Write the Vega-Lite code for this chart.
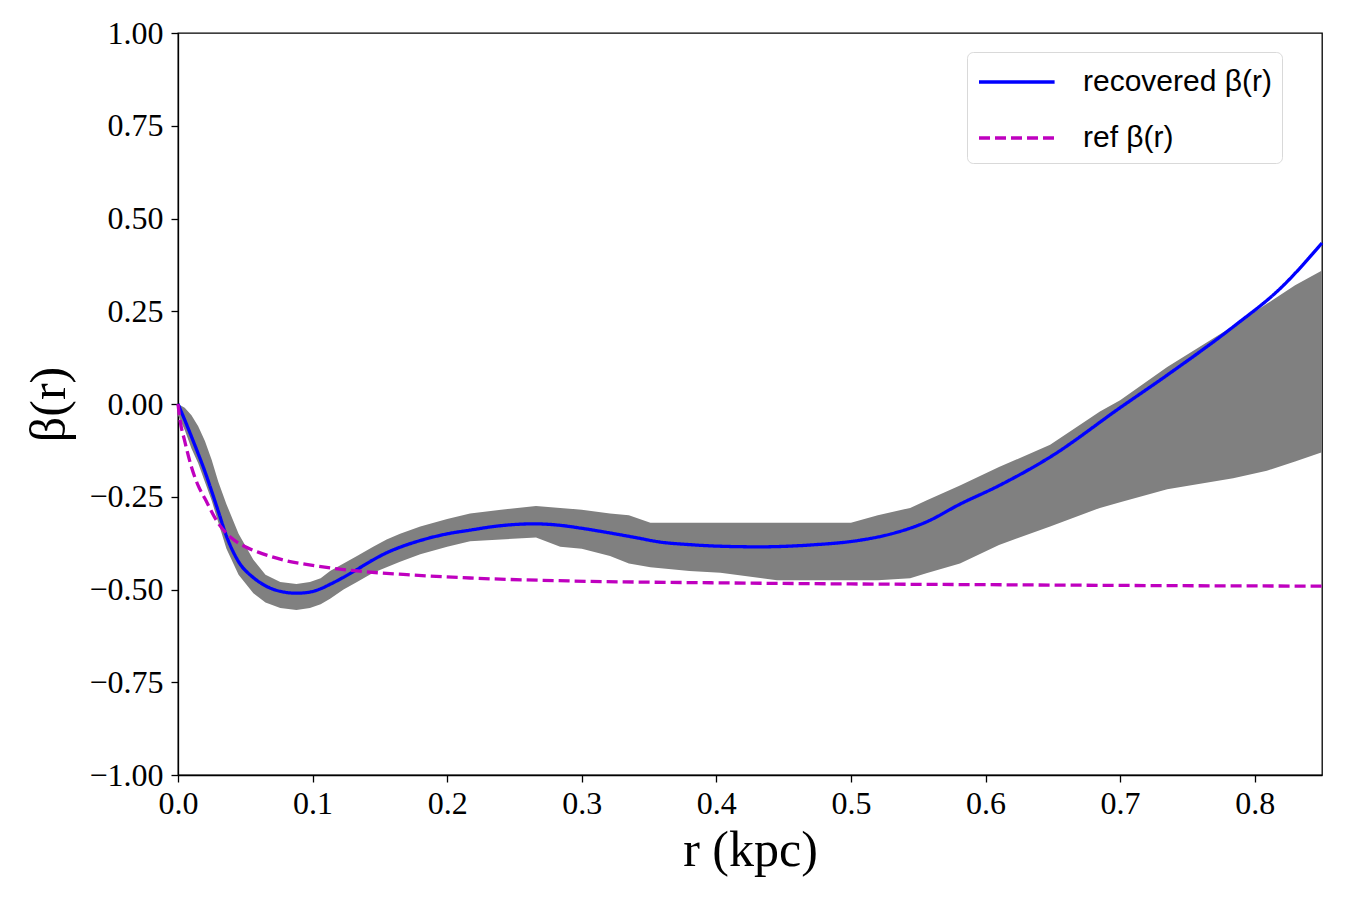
{
  "$schema": "https://vega.github.io/schema/vega-lite/v6.json",
  "width": 1144,
  "height": 742,
  "autosize": {"type": "none"},
  "padding": {"left": 178, "top": 33, "right": 28, "bottom": 125},
  "background": "white",
  "config": {
    "view": {"stroke": "black", "strokeWidth": 1.3},
    "axis": {
      "grid": false,
      "domainColor": "black",
      "domainWidth": 1.3,
      "tickColor": "black",
      "tickWidth": 1.3,
      "tickSize": 7,
      "labelFont": "Liberation Serif",
      "labelFontSize": 32,
      "labelColor": "black",
      "labelFlush": false,
      "labelOverlap": false,
      "titleFont": "Liberation Serif",
      "titleFontSize": 50,
      "titleFontWeight": "normal",
      "titleColor": "black"
    },
    "legend": {
      "orient": "none",
      "legendX": 789,
      "legendY": 19,
      "title": null,
      "fillColor": "white",
      "strokeColor": "#d9d9d9",
      "cornerRadius": 6,
      "padding": 10,
      "symbolType": "M-1,0H3.2",
      "symbolSize": 1296,
      "symbolStrokeWidth": 3.3,
      "labelFont": "Liberation Sans",
      "labelFontSize": 30,
      "labelColor": "black",
      "labelOffset": 66,
      "labelLimit": 0,
      "rowPadding": 21
    }
  },
  "datasets": {
    "band": [
      {"r": 0.0, "lo": -0.03, "hi": 0.0},
      {"r": 0.005, "lo": -0.07, "hi": -0.01},
      {"r": 0.01, "lo": -0.12, "hi": -0.03},
      {"r": 0.015, "lo": -0.16, "hi": -0.06},
      {"r": 0.02, "lo": -0.21, "hi": -0.1},
      {"r": 0.025, "lo": -0.26, "hi": -0.15},
      {"r": 0.03, "lo": -0.32, "hi": -0.21},
      {"r": 0.036, "lo": -0.39, "hi": -0.27},
      {"r": 0.045, "lo": -0.46, "hi": -0.35},
      {"r": 0.056, "lo": -0.51, "hi": -0.42},
      {"r": 0.065, "lo": -0.535, "hi": -0.46},
      {"r": 0.076, "lo": -0.55, "hi": -0.48},
      {"r": 0.088, "lo": -0.555, "hi": -0.485},
      {"r": 0.098, "lo": -0.55, "hi": -0.48},
      {"r": 0.106, "lo": -0.54, "hi": -0.47},
      {"r": 0.113, "lo": -0.525, "hi": -0.45},
      {"r": 0.123, "lo": -0.5, "hi": -0.43},
      {"r": 0.133, "lo": -0.48, "hi": -0.41},
      {"r": 0.145, "lo": -0.455, "hi": -0.385},
      {"r": 0.155, "lo": -0.44, "hi": -0.365},
      {"r": 0.165, "lo": -0.425, "hi": -0.35},
      {"r": 0.18, "lo": -0.405, "hi": -0.33},
      {"r": 0.2, "lo": -0.385, "hi": -0.31},
      {"r": 0.217, "lo": -0.37, "hi": -0.295},
      {"r": 0.24, "lo": -0.365, "hi": -0.285},
      {"r": 0.266, "lo": -0.36, "hi": -0.275},
      {"r": 0.284, "lo": -0.385, "hi": -0.28},
      {"r": 0.3, "lo": -0.39, "hi": -0.285},
      {"r": 0.321, "lo": -0.41, "hi": -0.295},
      {"r": 0.335, "lo": -0.43, "hi": -0.3},
      {"r": 0.351, "lo": -0.44, "hi": -0.32},
      {"r": 0.38, "lo": -0.45, "hi": -0.32},
      {"r": 0.403, "lo": -0.455, "hi": -0.32},
      {"r": 0.445, "lo": -0.475, "hi": -0.32},
      {"r": 0.5, "lo": -0.475, "hi": -0.32},
      {"r": 0.52, "lo": -0.475, "hi": -0.3},
      {"r": 0.544, "lo": -0.47, "hi": -0.28},
      {"r": 0.556, "lo": -0.456, "hi": -0.26},
      {"r": 0.581, "lo": -0.43, "hi": -0.22},
      {"r": 0.61, "lo": -0.38, "hi": -0.17},
      {"r": 0.648, "lo": -0.33, "hi": -0.11},
      {"r": 0.685, "lo": -0.28, "hi": -0.02},
      {"r": 0.7, "lo": -0.265, "hi": 0.01},
      {"r": 0.735, "lo": -0.23, "hi": 0.1},
      {"r": 0.784, "lo": -0.2, "hi": 0.21},
      {"r": 0.809, "lo": -0.18, "hi": 0.27},
      {"r": 0.83, "lo": -0.155, "hi": 0.32},
      {"r": 0.85, "lo": -0.13, "hi": 0.36}
    ],
    "curves": [
      {"series": "recovered β(r)", "r": 0.0, "beta": 0.0},
      {"series": "recovered β(r)", "r": 0.005, "beta": -0.043},
      {"series": "recovered β(r)", "r": 0.01, "beta": -0.088},
      {"series": "recovered β(r)", "r": 0.015, "beta": -0.134},
      {"series": "recovered β(r)", "r": 0.02, "beta": -0.182},
      {"series": "recovered β(r)", "r": 0.025, "beta": -0.235},
      {"series": "recovered β(r)", "r": 0.03, "beta": -0.29},
      {"series": "recovered β(r)", "r": 0.036, "beta": -0.356},
      {"series": "recovered β(r)", "r": 0.045, "beta": -0.425},
      {"series": "recovered β(r)", "r": 0.056, "beta": -0.468},
      {"series": "recovered β(r)", "r": 0.065, "beta": -0.49},
      {"series": "recovered β(r)", "r": 0.076, "beta": -0.505},
      {"series": "recovered β(r)", "r": 0.088, "beta": -0.51},
      {"series": "recovered β(r)", "r": 0.098, "beta": -0.507},
      {"series": "recovered β(r)", "r": 0.106, "beta": -0.498},
      {"series": "recovered β(r)", "r": 0.113, "beta": -0.486},
      {"series": "recovered β(r)", "r": 0.123, "beta": -0.467},
      {"series": "recovered β(r)", "r": 0.133, "beta": -0.446},
      {"series": "recovered β(r)", "r": 0.145, "beta": -0.42},
      {"series": "recovered β(r)", "r": 0.155, "beta": -0.401},
      {"series": "recovered β(r)", "r": 0.165, "beta": -0.386},
      {"series": "recovered β(r)", "r": 0.18, "beta": -0.368},
      {"series": "recovered β(r)", "r": 0.2, "beta": -0.35},
      {"series": "recovered β(r)", "r": 0.217, "beta": -0.34},
      {"series": "recovered β(r)", "r": 0.235, "beta": -0.33},
      {"series": "recovered β(r)", "r": 0.254, "beta": -0.324},
      {"series": "recovered β(r)", "r": 0.265, "beta": -0.323},
      {"series": "recovered β(r)", "r": 0.284, "beta": -0.327},
      {"series": "recovered β(r)", "r": 0.3, "beta": -0.335},
      {"series": "recovered β(r)", "r": 0.32, "beta": -0.347},
      {"series": "recovered β(r)", "r": 0.34, "beta": -0.36},
      {"series": "recovered β(r)", "r": 0.358, "beta": -0.372},
      {"series": "recovered β(r)", "r": 0.38, "beta": -0.379},
      {"series": "recovered β(r)", "r": 0.4, "beta": -0.383},
      {"series": "recovered β(r)", "r": 0.432, "beta": -0.385},
      {"series": "recovered β(r)", "r": 0.47, "beta": -0.38},
      {"series": "recovered β(r)", "r": 0.507, "beta": -0.367},
      {"series": "recovered β(r)", "r": 0.53, "beta": -0.35},
      {"series": "recovered β(r)", "r": 0.556, "beta": -0.318},
      {"series": "recovered β(r)", "r": 0.581, "beta": -0.27},
      {"series": "recovered β(r)", "r": 0.61, "beta": -0.22},
      {"series": "recovered β(r)", "r": 0.648, "beta": -0.143},
      {"series": "recovered β(r)", "r": 0.7, "beta": -0.01},
      {"series": "recovered β(r)", "r": 0.735, "beta": 0.078},
      {"series": "recovered β(r)", "r": 0.784, "beta": 0.208},
      {"series": "recovered β(r)", "r": 0.82, "beta": 0.315},
      {"series": "recovered β(r)", "r": 0.85, "beta": 0.434},
      {"series": "ref β(r)", "r": 0.0, "beta": 0.0},
      {"series": "ref β(r)", "r": 0.0015, "beta": -0.043},
      {"series": "ref β(r)", "r": 0.005, "beta": -0.1},
      {"series": "ref β(r)", "r": 0.01, "beta": -0.17},
      {"series": "ref β(r)", "r": 0.015, "beta": -0.22},
      {"series": "ref β(r)", "r": 0.02, "beta": -0.255},
      {"series": "ref β(r)", "r": 0.03, "beta": -0.322},
      {"series": "ref β(r)", "r": 0.04, "beta": -0.362},
      {"series": "ref β(r)", "r": 0.05, "beta": -0.385},
      {"series": "ref β(r)", "r": 0.06, "beta": -0.4},
      {"series": "ref β(r)", "r": 0.07, "beta": -0.412},
      {"series": "ref β(r)", "r": 0.08, "beta": -0.422},
      {"series": "ref β(r)", "r": 0.1, "beta": -0.435},
      {"series": "ref β(r)", "r": 0.133, "beta": -0.45},
      {"series": "ref β(r)", "r": 0.17, "beta": -0.46},
      {"series": "ref β(r)", "r": 0.217, "beta": -0.469},
      {"series": "ref β(r)", "r": 0.291, "beta": -0.477},
      {"series": "ref β(r)", "r": 0.4, "beta": -0.482},
      {"series": "ref β(r)", "r": 0.5, "beta": -0.485},
      {"series": "ref β(r)", "r": 0.6, "beta": -0.487},
      {"series": "ref β(r)", "r": 0.7, "beta": -0.489},
      {"series": "ref β(r)", "r": 0.85, "beta": -0.491}
    ]
  },
  "encoding": {
    "x": {
      "field": "r",
      "type": "quantitative",
      "scale": {"domain": [0, 0.85], "nice": false, "zero": false},
      "axis": {
        "values": [0, 0.1, 0.2, 0.3, 0.4, 0.5, 0.6, 0.7, 0.8],
        "format": ".1f",
        "title": "r (kpc)",
        "labelPadding": 6,
        "titlePadding": 6
      }
    }
  },
  "layer": [
    {
      "data": {"name": "band"},
      "mark": {"type": "area", "color": "#808080", "opacity": 1},
      "encoding": {
        "y": {
          "field": "lo",
          "type": "quantitative",
          "scale": {"domain": [-1, 1], "nice": false},
          "axis": {
            "values": [-1, -0.75, -0.5, -0.25, 0, 0.25, 0.5, 0.75, 1],
            "format": ".2f",
            "labelExpr": "replace(datum.label, '-', '−')",
            "title": "β(r)",
            "labelPadding": 8,
            "titlePadding": 14
          }
        },
        "y2": {"field": "hi"}
      }
    },
    {
      "data": {"name": "curves"},
      "mark": {"type": "line", "strokeWidth": 3.3, "interpolate": "monotone"},
      "encoding": {
        "y": {"field": "beta", "type": "quantitative"},
        "color": {
          "field": "series",
          "type": "nominal",
          "scale": {"domain": ["recovered β(r)", "ref β(r)"], "range": ["#0000ff", "#bf00bf"]},
          "legend": {"title": null}
        },
        "strokeDash": {
          "field": "series",
          "type": "nominal",
          "scale": {"domain": ["recovered β(r)", "ref β(r)"], "range": [[1, 0], [11, 5]]},
          "legend": {"title": null}
        }
      }
    }
  ]
}
